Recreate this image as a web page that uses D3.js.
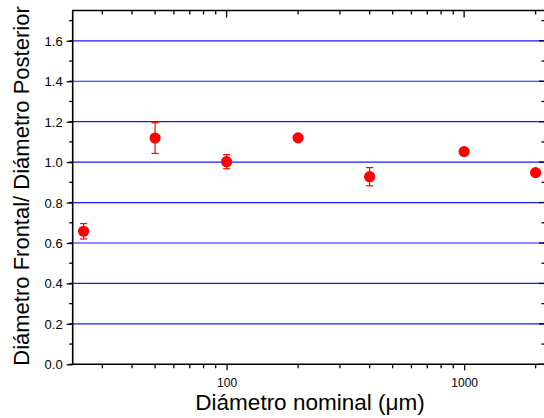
<!DOCTYPE html>
<html><head><meta charset="utf-8">
<script src="https://cdn.jsdelivr.net/npm/d3@7"></script>
<style>body{margin:0;background:#fff}svg{display:block}text{font-family:Arial,"Liberation Sans",sans-serif}</style>
</head><body><svg id="c" width="544" height="418"></svg>
<script>
const diam = [25, 50, 100, 200, 400, 1000, 2000];
const ratio = [0.658, 1.119, 1.002, 1.120, 0.928, 1.052, 0.948];
const err = [0.038, 0.076, 0.035, 0.0, 0.045, 0.0, 0.0];
const yTicks = [0, 0.2, 0.4, 0.6, 0.8, 1.0, 1.2, 1.4, 1.6];
const gridVals = [0.2, 0.4, 0.6, 0.8, 1.0, 1.2, 1.4, 1.6];
const xTickLabels = [100, 1000];
const xLabel = "Diámetro nominal (\u03bcm)";
const yLabel = "Diámetro Frontal/ Diámetro Posterior";

const svg = d3.select("#c");
const L = 72.7, R = 545, T = 10.5, B = 364.3;
const x = d3.scaleLog().domain([22.5, 2190]).range([L, R]);
const y = d3.scaleLinear().domain([0, 1.75]).range([B, T]);

// grid
svg.append("g").selectAll("line").data(gridVals).join("line")
  .attr("x1", L).attr("x2", R).attr("y1", d => y(d)).attr("y2", d => y(d))
  .attr("stroke", "#1a1aff").attr("stroke-width", 1.2);

const minorY = d3.range(0, 1.75, 0.1);
const xMinor = [];
[10, 100, 1000].forEach(b => { for (let k = 1; k <= 9; k++) { const v = b * k; if (v >= 22.5 && v <= 2190) xMinor.push(v); } });

// left axis
const yAx = svg.append("g").attr("transform", `translate(${L},0)`)
  .call(d3.axisLeft(y).tickValues(yTicks).tickFormat(d3.format(".1f")).tickSize(6).tickSizeOuter(0));
yAx.select(".domain").remove();
yAx.selectAll(".tick line").attr("stroke-width", 1.3);
yAx.selectAll("text").attr("font-size", 13).attr("x", -10).attr("dy", "0.35em");
svg.append("g").selectAll("line").data(minorY).join("line")
  .attr("x1", L - 3.5).attr("x2", L).attr("y1", d => y(d)).attr("y2", d => y(d))
  .attr("stroke", "#000").attr("stroke-width", 1.3);

// right ticks (inward)
svg.append("g").selectAll("line").data(minorY).join("line")
  .attr("x1", R).attr("x2", d => R - (Math.abs(d * 5 - Math.round(d * 5)) < 1e-6 ? 6 : 3.5))
  .attr("y1", d => y(d)).attr("y2", d => y(d))
  .attr("stroke", "#000").attr("stroke-width", 1.3);

// bottom axis
const xAx = svg.append("g").attr("transform", `translate(0,${B})`)
  .call(d3.axisBottom(x).tickValues(xTickLabels).tickFormat(d3.format("d")).tickSize(6).tickSizeOuter(0));
xAx.select(".domain").remove();
xAx.selectAll(".tick line").attr("stroke-width", 1.3);
xAx.selectAll("text").attr("font-size", 12).attr("y", 14).attr("dy", "0.71em");
svg.append("g").selectAll("line").data(xMinor.filter(v => !xTickLabels.includes(v))).join("line")
  .attr("x1", d => x(d)).attr("x2", d => x(d)).attr("y1", B).attr("y2", B + 4)
  .attr("stroke", "#000").attr("stroke-width", 1.3);

// top ticks (inward)
svg.append("g").selectAll("line").data(xMinor).join("line")
  .attr("x1", d => x(d)).attr("x2", d => x(d)).attr("y1", T)
  .attr("y2", d => T + (xTickLabels.includes(d) ? 7 : 4))
  .attr("stroke", "#000").attr("stroke-width", 1.3);

// frame
svg.append("path")
  .attr("d", `M${R},${T}H${L}V${B}H${R}`)
  .attr("fill", "none").attr("stroke", "#000").attr("stroke-width", 1.6);

// error bars
const eb = svg.append("g").attr("stroke", "#ff0000").attr("stroke-width", 1.2);
diam.forEach((d, i) => {
  if (err[i] <= 0) return;
  const cx = x(d), y1 = y(ratio[i] + err[i]), y2 = y(ratio[i] - err[i]);
  eb.append("line").attr("x1", cx).attr("x2", cx).attr("y1", y1).attr("y2", y2);
  eb.append("line").attr("x1", cx - 3.5).attr("x2", cx + 3.5).attr("y1", y1).attr("y2", y1);
  eb.append("line").attr("x1", cx - 3.5).attr("x2", cx + 3.5).attr("y1", y2).attr("y2", y2);
});

// points
svg.append("g").selectAll("circle").data(diam).join("circle")
  .attr("cx", d => x(d)).attr("cy", (d, i) => y(ratio[i])).attr("r", 5.6)
  .attr("fill", "#ff0000");

// labels
svg.append("text").attr("x", 310).attr("y", 410).attr("text-anchor", "middle")
  .attr("font-size", 22.5).text(xLabel);
svg.append("text").attr("transform", `translate(29,186) rotate(-90)`).attr("text-anchor", "middle")
  .attr("font-size", 22).text(yLabel);
</script></body></html>
